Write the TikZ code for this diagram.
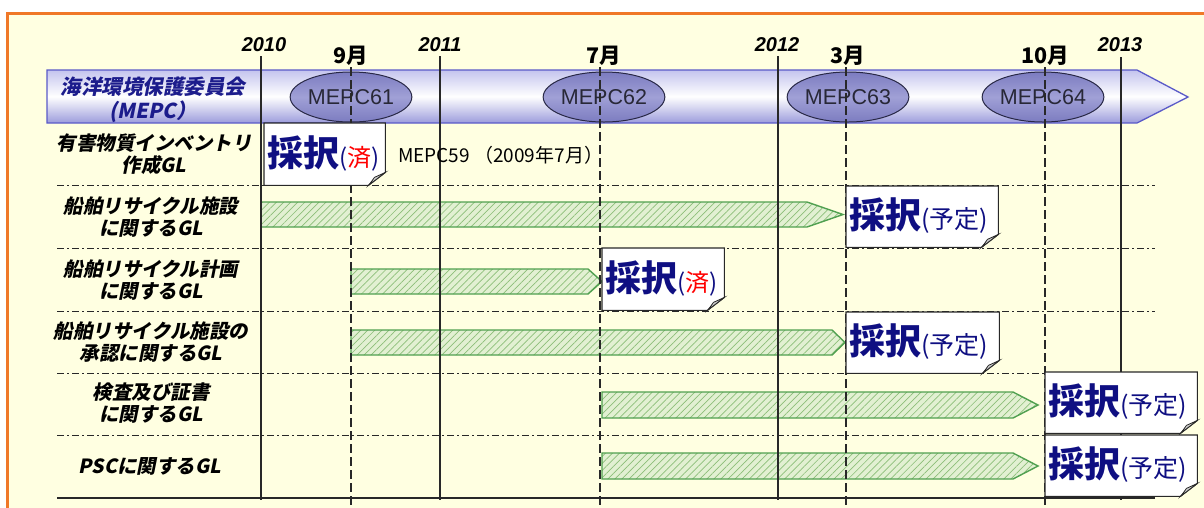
\documentclass[tikz,border=0pt]{standalone}
\usepackage{fontspec}
\setmainfont{Liberation Sans}
\newfontfamily\jp{Noto Sans CJK JP}
\newfontfamily\jpit{Noto Sans CJK JP}[FakeSlant=0.2]
\usetikzlibrary{shapes.geometric,patterns.meta}
\definecolor{cream}{RGB}{255,255,225}
\definecolor{frameorange}{RGB}{240,120,40}
\definecolor{bandtop}{RGB}{196,196,238}
\definecolor{bandbot}{RGB}{156,156,220}
\definecolor{bandline}{RGB}{90,90,200}
\definecolor{ellfill}{RGB}{124,124,192}
\definecolor{elllight}{RGB}{160,160,214}
\definecolor{ellborder}{RGB}{40,40,70}
\definecolor{elltext}{RGB}{40,40,55}
\definecolor{navy}{RGB}{15,15,130}
\definecolor{lblue}{RGB}{28,28,140}
\definecolor{bargreen}{RGB}{80,160,80}
\definecolor{barfill}{RGB}{226,240,210}
\definecolor{hatchgreen}{RGB}{140,190,120}
\definecolor{gridc}{RGB}{40,40,40}
\definecolor{foldc}{RGB}{205,205,205}
\newcommand\saibox[6]{%
  \node[boxanchor, minimum width=#4pt, minimum height=#5pt] (#1) at (#2,#3) {};
  \filldraw[boxline] (#1.north west) -- (#1.north east) -- ([yshift=13pt]#1.south east)
     -- ([xshift=-17pt]#1.south east) -- (#1.south west) -- cycle;
  \filldraw[foldpart] ([yshift=13pt]#1.south east) -- ([xshift=-17pt]#1.south east)
     .. controls ([xshift=-13pt,yshift=5pt]#1.south east) .. ([xshift=-11pt,yshift=8pt]#1.south east) -- cycle;
  \node[saitext] (#1t) at ([xshift=3pt,yshift=1pt]#1.west) {#6};
}
\newcommand\saiA{{\bfseries\fontsize{36}{36}\selectfont 採択}}
\newcommand\sumi{{\fontsize{24}{24}\selectfont (\textcolor{red}{済})}}
\newcommand\yotei{{\fontsize{25}{25}\selectfont (予定)}}
\begin{document}
\begin{tikzpicture}[x=1pt,y=-1pt,
  yearlab/.style={font=\bfseries\itshape\fontsize{20}{22}\selectfont, inner sep=0pt},
  monthlab/.style={font=\jp\bfseries\fontsize{21.5}{22}\selectfont, inner sep=0pt},
  yearline/.style={draw=gridc, line width=1.3pt},
  monthline/.style={draw=gridc, line width=1.3pt, dash pattern=on 9pt off 4pt},
  sepline/.style={draw=gridc, line width=1pt, dash pattern=on 7pt off 3pt on 2pt off 3pt},
  mepc/.style={ellipse, minimum width=121pt, minimum height=50pt, inner sep=0pt,
    draw=ellborder, line width=1pt, top color=ellfill, bottom color=ellfill,
    middle color=elllight, font=\fontsize{21.5}{21}\selectfont, text=elltext},
  rowlab/.style={align=center, font=\jpit\bfseries\fontsize{19.5}{22}\selectfont, inner sep=0pt},
  bar/.style={draw=bargreen, line width=1.4pt, preaction={fill=barfill},
    pattern={Lines[angle=45,distance=5pt,line width=0.7pt]}, pattern color=hatchgreen},
  boxanchor/.style={rectangle, inner sep=0pt, anchor=north west},
  boxline/.style={fill=white, draw=gridc, line width=1.1pt},
  foldpart/.style={fill=foldc, draw=gridc, line width=0.8pt},
  saitext/.style={anchor=west, inner sep=0pt, text=navy, font=\jp}
]
\useasboundingbox (0,0) rectangle (1204,507);
\clip (0,0) rectangle (1204,507);
\fill[white] (0,0) rectangle (1204,507);
\filldraw[fill=cream, draw=frameorange, line width=3pt] (7.5,13.5) rectangle (1240,540);

% MEPC band
\shadedraw[top color=bandtop, bottom color=bandbot, middle color=white, draw=bandline, line width=1.3pt]
  (47,70) -- (1137,70) -- (1188,97) -- (1137,123) -- (47,123) -- cycle;
\node[align=center, text=lblue, font=\jpit\bfseries\fontsize{20.5}{24}\selectfont, inner sep=0pt] (mepclab) at (153,100) {海洋環境保護委員会\\(MEPC）};

% ellipses
\node[mepc] (e61) at (351,97) {MEPC61};
\node[mepc] (e62) at (604,97) {MEPC62};
\node[mepc] (e63) at (848,97) {MEPC63};
\node[mepc] (e64) at (1043,97) {MEPC64};

% row labels
\node[rowlab] (r1) at (154,154) {有害物質インベントリ\\作成GL};
\node[rowlab] (r2) at (151,217) {船舶リサイクル施設\\に関するGL};
\node[rowlab] (r3) at (151,280) {船舶リサイクル計画\\に関するGL};
\node[rowlab] (r4) at (151,342) {船舶リサイクル施設の\\承認に関するGL};
\node[rowlab] (r5) at (151,403) {検査及び証書\\に関するGL};
\node[rowlab] (r6) at (150,466) {PSCに関するGL};

% separators
\coordinate (sl) at (57,0);
\coordinate (sr) at (1155,0);
\foreach \yy in {185,248,311,373,435} {
  \draw[sepline] (sl |- 0,\yy) -- (sr |- 0,\yy);
}
\draw[yearline, line width=1.1pt] (sl |- 0,498) -- (sr |- 0,498);

% green bars
\draw[bar] (261,202) -- (807,202) -- (843,214.5) -- (807,227) -- (261,227) -- cycle;
\draw[bar] (351,269) -- (588,269) -- (602,281.5) -- (588,294) -- (351,294) -- cycle;
\draw[bar] (351,330) -- (832,330) -- (845,342.5) -- (832,355) -- (351,355) -- cycle;
\draw[bar] (602,392) -- (1013,392) -- (1038,405) -- (1013,418) -- (602,418) -- cycle;
\draw[bar] (602,453) -- (1013,453) -- (1038,466) -- (1013,479) -- (602,479) -- cycle;

% year labels and lines
\node[yearlab] (y2010) at (264,45) {2010};
\node[yearlab] (y2011) at (440,45) {2011};
\node[yearlab] (y2012) at (777,45) {2012};
\node[yearlab] (y2013) at (1120,45) {2013};
\draw[yearline] (261,56) -- (261,500);
\draw[yearline] (440,56) -- (440,500);
\draw[yearline] (778,56) -- (778,500);
\draw[yearline] (1121,57) -- (1121,500);

% month labels and lines
\node[monthlab] (m9) at (351,56) {9月};
\node[monthlab] (m7) at (604,56) {7月};
\node[monthlab] (m3) at (848,56) {3月};
\node[monthlab] (m10) at (1045,56) {10月};
\draw[monthline] (351,67) -- (351,507);
\draw[monthline] (600,67) -- (600,507);
\draw[monthline] (846,67) -- (846,507);
\draw[monthline] (1045,67) -- (1045,507);

% MEPC59 note
\node[anchor=west, inner sep=0pt, font=\jp\fontsize{19}{20}\selectfont] (m59) at (398,155) {MEPC59 （2009年7月）};

% adoption boxes
\saibox{b1}{264}{123}{121}{62}{\saiA\sumi}
\saibox{b2}{846}{186}{152}{61}{\saiA\yotei}
\saibox{b3}{602}{248}{122}{62}{\saiA\sumi}
\saibox{b4}{846}{312}{153}{61}{\saiA\yotei}
\saibox{b5}{1045}{372}{152}{61}{\saiA\yotei}
\saibox{b6}{1045}{435}{152}{61}{\saiA\yotei}
\end{tikzpicture}
\end{document}
